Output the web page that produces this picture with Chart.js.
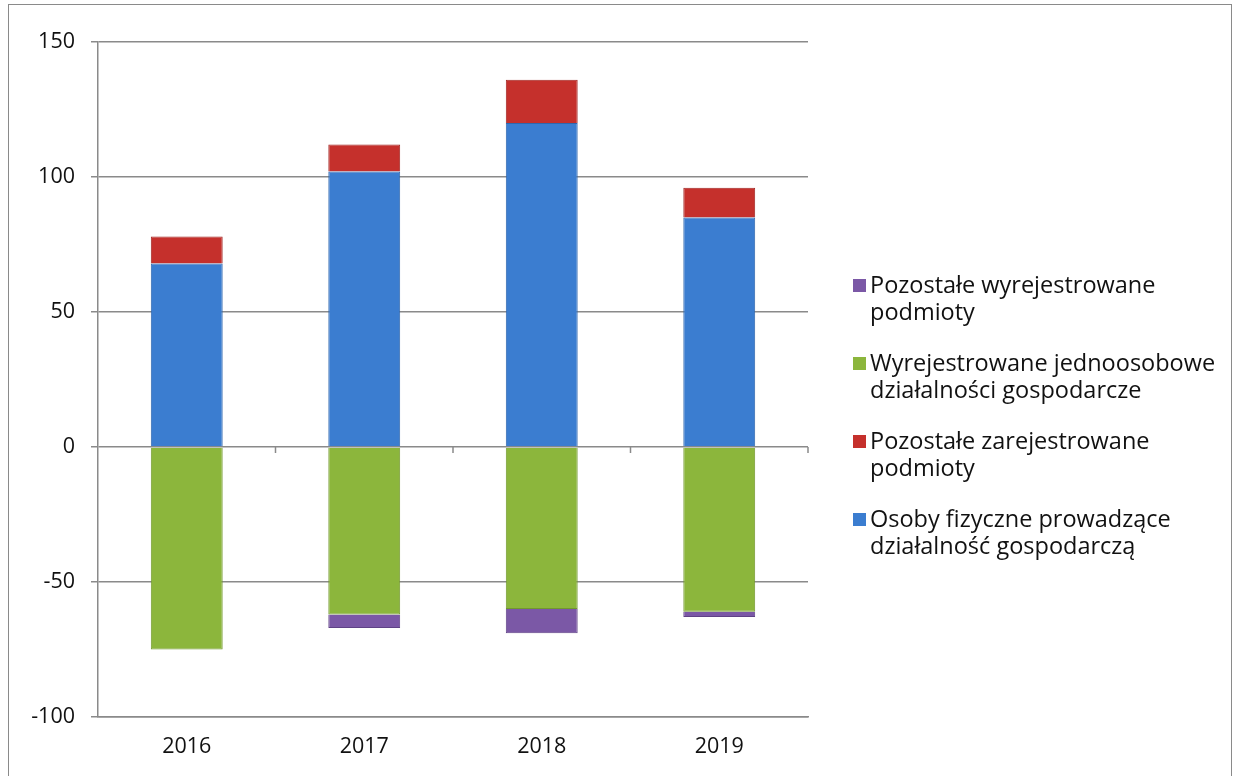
<!DOCTYPE html>
<html>
<head>
<meta charset="utf-8">
<script src="https://cdn.jsdelivr.net/npm/chart.js@4.4.0/dist/chart.umd.min.js"></script>
<style>
  body { margin: 0; background: #fff; }
  #wrap { position: relative; width: 1236px; height: 776px; }
  #frame { position: absolute; left: 8px; top: 4px; width: 1224px; height: 790px; border: 1.5px solid #8a8a8a; box-sizing: border-box; }
  #legend { position: absolute; left: 853px; top: 271px; font-family: 'Open Sans', sans-serif; font-size: 23.5px; color: #111; line-height: 27px; }
  .item { display: flex; align-items: flex-start; margin-bottom: 24px; }
  .box { width: 13px; height: 13px; margin: 8px 4px 0 0; flex: none; }
</style>
</head>
<body>
<div id="wrap">
  <div id="frame"></div>
  <canvas id="chart" width="1236" height="776"></canvas>
  <div id="legend"></div>
</div>
<script>
const years = ['2016', '2017', '2018', '2019'];

const osobyFizyczne = [68, 102, 120, 85];
const pozostaleZarej = [10, 10, 16, 11];
const jednoosoboweWyrej = [-75, -62, -60, -61];
const pozostaleWyrej = [0, -5, -9, -2];

const yTicks = [-100, -50, 0, 50, 100, 150];

const names = {
    blue: 'Osoby fizyczne prowadzące działalność gospodarczą',
    red: 'Pozostałe zarejestrowane podmioty',
    green: 'Wyrejestrowane jednoosobowe działalności gospodarcze',
    purple: 'Pozostałe wyrejestrowane podmioty'
};

// legend text split by hand, same as in the picture
const legendItems = [
    { color: '#7b58a6', lines: ['Pozostałe wyrejestrowane', 'podmioty'] },
    { color: '#8cb63c', lines: ['Wyrejestrowane jednoosobowe', 'działalności gospodarcze'] },
    { color: '#c5302c', lines: ['Pozostałe zarejestrowane', 'podmioty'] },
    { color: '#3b7dd0', lines: ['Osoby fizyczne prowadzące', 'działalność gospodarczą'] }
];

const legendDiv = document.getElementById('legend');
legendItems.forEach(it => {
    const row = document.createElement('div');
    row.className = 'item';
    row.innerHTML = '<div class="box" style="background:' + it.color + '"></div><div>' + it.lines.join('<br>') + '</div>';
    legendDiv.appendChild(row);
});

// little tick marks between the categories on the zero line
const zeroTicks = {
    id: 'zeroTicks',
    afterDatasetsDraw(chart) {
        const x = chart.scales.x, y = chart.scales.y;
        const ctx = chart.ctx;
        const y0 = y.getPixelForValue(0);
        ctx.save();
        ctx.strokeStyle = '#8a8a8a';
        ctx.lineWidth = 1.5;
        for (let i = 1; i <= years.length; i++) {
            const px = x.getPixelForValue(i - 0.5);
            ctx.beginPath();
            ctx.moveTo(px, y0);
            ctx.lineTo(px, y0 + 6);
            ctx.stroke();
        }
        ctx.restore();
    }
};

const ctx = document.getElementById('chart').getContext('2d');
new Chart(ctx, {
    type: 'bar',
    data: {
        labels: years,
        datasets: [{
            label: names.blue,
            data: osobyFizyczne,
            backgroundColor: '#3b7dd0',
            borderColor: '#2f66ad',
            borderWidth: 1
        }, {
            label: names.red,
            data: pozostaleZarej,
            backgroundColor: '#c5302c',
            borderColor: '#a02522',
            borderWidth: 1
        }, {
            label: names.green,
            data: jednoosoboweWyrej,
            backgroundColor: '#8cb63c',
            borderColor: '#72982e',
            borderWidth: 1
        }, {
            label: names.purple,
            data: pozostaleWyrej,
            backgroundColor: '#7b58a6',
            borderColor: '#5f4286',
            borderWidth: 1
        }]
    },
    options: {
        responsive: false,
        animation: false,
        layout: { padding: { left: 0, right: 428, top: 42, bottom: 0 } },
        datasets: { bar: { categoryPercentage: 1, barPercentage: 0.405 } },
        plugins: {
            legend: { display: false },
            tooltip: { enabled: false }
        },
        scales: {
            x: {
                stacked: true,
                grid: { display: false },
                border: { color: '#8a8a8a', width: 1.5 },
                ticks: {
                    color: '#111',
                    padding: 9,
                    font: { family: 'Open Sans', size: 21.5 }
                },
                afterFit: s => { s.height = 59; }
            },
            y: {
                stacked: true,
                min: -100,
                max: 150,
                afterBuildTicks: s => { s.ticks = yTicks.map(v => ({ value: v })); },
                grid: { color: '#8a8a8a', lineWidth: 1.5, tickLength: 7, drawTicks: true },
                border: { color: '#8a8a8a', width: 1.5 },
                ticks: {
                    color: '#111',
                    padding: 16,
                    font: { family: 'Open Sans', size: 21.5 }
                },
                afterFit: s => { s.width = 98; }
            }
        }
    },
    plugins: [zeroTicks]
});
</script>
</body>
</html>
